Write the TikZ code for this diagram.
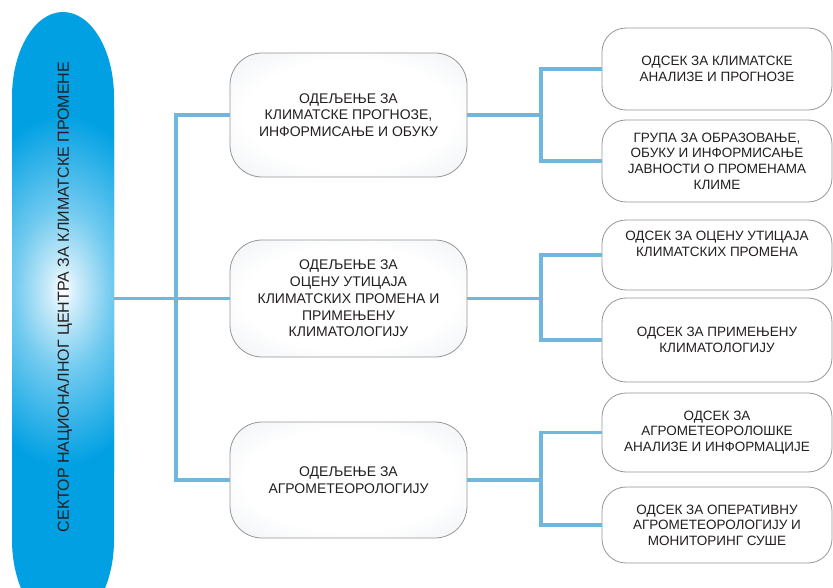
\documentclass[tikz,border=0pt]{standalone}
\usepackage{fontspec}
\setmainfont{Liberation Sans}
\usetikzlibrary{calc}

\definecolor{sectorblue}{RGB}{0,160,227}
\definecolor{linkblue}{RGB}{112,182,221}
\definecolor{boxedge}{RGB}{150,150,150}
\definecolor{boxgrey}{RGB}{228,233,238}
\definecolor{inktext}{RGB}{35,31,32}

\pgfdeclareradialshading{sectorglow}{\pgfpoint{0bp}{0bp}}{%
  color(0bp)=(white); color(3bp)=(white!80!sectorblue);
  color(10bp)=(white!45!sectorblue); color(22bp)=(sectorblue);
  color(50bp)=(sectorblue)}
\pgfdeclareradialshading{deptglow}{\pgfpoint{0bp}{0bp}}{%
  color(0bp)=(white); color(22bp)=(white);
  color(45bp)=(boxgrey); color(60bp)=(boxgrey)}

\tikzset{
  dept/.style={draw=boxedge, line width=0.8pt, rounded corners=32pt,
    shading=deptglow, minimum width=237pt,
    align=center, text=inktext, font=\fontsize{14}{16.8}\selectfont},
  unit/.style={draw=boxedge, line width=0.8pt, fill=white, rounded corners=24pt,
    minimum width=230pt, align=center, text=inktext,
    font=\fontsize{13.5}{15.6}\selectfont},
  unittext/.style={align=center, text=inktext, font=\fontsize{13.5}{15.6}\selectfont},
  link/.style={linkblue, line width=3.2pt},
}

\begin{document}
\begin{tikzpicture}[x=1pt,y=-1pt]
	%%%%% START %%%%%
	\def\rx{51}
	\def\ry{85}
	\useasboundingbox (0,0) rectangle (833,588);

	% sector
	\begin{scope}
		\clip (12,97) arc[start angle=180, end angle=270, x radius=\rx, y radius=\ry]
			arc[start angle=270, end angle=360, x radius=\rx, y radius=\ry]
			-- (114,540) arc[start angle=0, end angle=90, x radius=\rx, y radius=\ry]
			arc[start angle=90, end angle=180, x radius=\rx, y radius=\ry] -- cycle;
		\fill[sectorblue] (0,0) rectangle (130,640);
		\shade[shading=sectorglow] (63,290) ellipse[x radius=120, y radius=200];
	\end{scope}
	\node[minimum width=102pt, minimum height=20pt] (sector) at (63,298.5) {};
	\node[rotate=90, text=inktext, font=\fontsize{16}{18}\selectfont] (sectorname) at (65,297)
		{СЕКТОР НАЦИОНАЛНОГ ЦЕНТРА ЗА КЛИМАТСКЕ ПРОМЕНЕ};

	% departments
	\node[dept, minimum height=124pt] (b1) at (348.5,115)
		{ОДЕЉЕЊЕ ЗА\\КЛИМАТСКЕ ПРОГНОЗЕ,\\ИНФОРМИСАЊЕ И ОБУКУ};
	\node[dept, minimum height=117pt] (b2) at (348.5,298.5)
		{ОДЕЉЕЊЕ ЗА\\ОЦЕНУ УТИЦАЈА\\КЛИМАТСКИХ ПРОМЕНА И\\ПРИМЕЊЕНУ\\КЛИМАТОЛОГИЈУ};
	\node[dept, minimum height=116pt] (b3) at (348.5,480)
		{ОДЕЉЕЊЕ ЗА\\АГРОМЕТЕОРОЛОГИЈУ};

	% units
	\node[unit, minimum height=82pt] (r1) at (717,69)
		{ОДСЕК ЗА КЛИМАТСКЕ\\АНАЛИЗЕ И ПРОГНОЗЕ};
	\node[unit, minimum height=82pt] (r2) at (717,161)
		{ГРУПА ЗА ОБРАЗОВАЊЕ,\\ОБУКУ И ИНФОРМИСАЊЕ\\ЈАВНОСТИ О ПРОМЕНАМА\\КЛИМЕ};
	\node[unit, minimum height=70pt] (r3) at (717,255) {};
	\node[unittext] (r3text) at ($(r3.center)+(0,-11)$)
		{ОДСЕК ЗА ОЦЕНУ УТИЦАЈА\\КЛИМАТСКИХ ПРОМЕНА};
	\node[unit, minimum height=84pt] (r4) at (717,340)
		{ОДСЕК ЗА ПРИМЕЊЕНУ\\КЛИМАТОЛОГИЈУ};
	\node[unit, minimum height=79pt] (r5) at (717,432.5)
		{ОДСЕК ЗА\\АГРОМЕТЕОРОЛОШКЕ\\АНАЛИЗЕ И ИНФОРМАЦИЈЕ};
	\node[unit, minimum height=76pt] (r6) at (717,525)
		{ОДСЕК ЗА ОПЕРАТИВНУ\\АГРОМЕТЕОРОЛОГИЈУ И\\МОНИТОРИНГ СУШЕ};

	% links
	\coordinate (fork1) at (176,0);
	\coordinate (fork2) at (541,0);
	\draw[link] (sector.east) -- (b2.west);
	\draw[link] (b1.west) -| (fork1 |- b3) -- (b3.west);
	\draw[link] (b1.east) -- (fork2 |- b1);
	\draw[link] (r1.west) -| (fork2 |- r2) -- (r2.west);
	\draw[link] (b2.east) -- (fork2 |- b2);
	\draw[link] (r3.west) -| (fork2 |- r4) -- (r4.west);
	\draw[link] (b3.east) -- (fork2 |- b3);
	\draw[link] (r5.west) -| (fork2 |- r6) -- (r6.west);
	%%%%% END %%%%%
\end{tikzpicture}
\end{document}
